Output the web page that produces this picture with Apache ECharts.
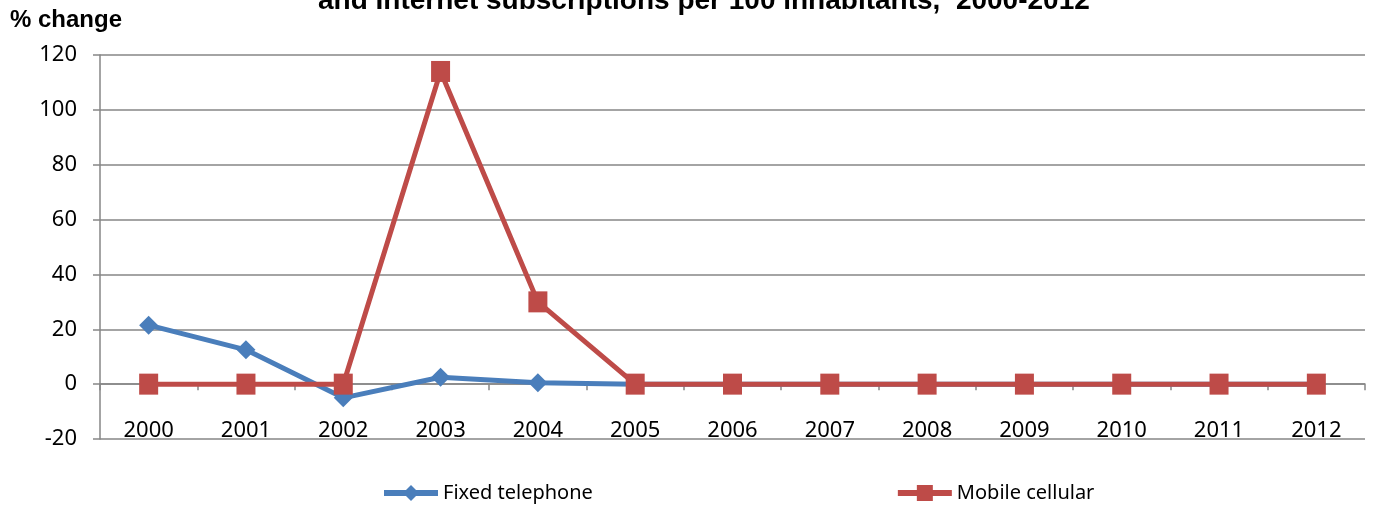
<!DOCTYPE html>
<html>
<head>
<meta charset="utf-8">
<script src="https://cdn.jsdelivr.net/npm/echarts@6/dist/echarts.min.js"></script>
<style>
html,body{margin:0;padding:0;background:#fff;}
#chart{width:1374px;height:510px;}
</style>
</head>
<body>
<div id="chart"></div>
<script>
var years = ['2000','2001','2002','2003','2004','2005','2006','2007','2008','2009','2010','2011','2012'];
var fixedTelephone = [21.5, 12.5, -5, 2.5, 0.5, 0, 0, 0, 0, 0, 0, 0, 0];
var mobileCellular = [0, 0, 0, 114, 30, 0, 0, 0, 0, 0, 0, 0, 0];
var yTicks = {min: -20, max: 120, interval: 20};
var titleText = 'and Internet subscriptions per 100 inhabitants,  2000-2012';
var yAxisTitle = '% change';

var chart = echarts.init(document.getElementById('chart'), null, {renderer: 'canvas'});
var axisGray = '#868686';
var font = 'Noto Sans';
chart.setOption({
  animation: false,
  backgroundColor: '#ffffff',
  graphic: [
    {type: 'text', left: 318, top: -13, style: {text: titleText, font: 'bold 28px "Liberation Sans", Arial', fill: '#000'}},
    {type: 'text', left: 10, top: 8, style: {text: yAxisTitle, font: 'bold 24px "Liberation Sans", Arial', fill: '#000'}}
  ],
  grid: {left: 100, right: 9, top: 55, bottom: 71, containLabel: false},
  legend: {
    bottom: 2, left: 376, itemGap: 302, itemWidth: 54, itemHeight: 20,
    lineStyle: {width: 6},
    textStyle: {fontFamily: font, fontSize: 20, color: '#000'},
    data: ['Fixed telephone', 'Mobile cellular']
  },
  xAxis: {
    type: 'category', data: years, boundaryGap: true,
    axisLine: {onZero: true, lineStyle: {color: axisGray, width: 1.5}},
    axisTick: {show: true, length: 6, lineStyle: {color: axisGray, width: 1.5}},
    axisLabel: {margin: -19, fontFamily: font, fontSize: 22, color: '#000'},
    splitLine: {show: false}
  },
  yAxis: {
    type: 'value', min: yTicks.min, max: yTicks.max, interval: yTicks.interval,
    axisLine: {show: true, lineStyle: {color: axisGray, width: 1.5}},
    axisTick: {show: true, length: 7, lineStyle: {color: axisGray, width: 1.5}},
    axisLabel: {margin: 23, fontFamily: font, fontSize: 22, color: '#000'},
    splitLine: {show: true, lineStyle: {color: axisGray, width: 1.5}}
  },
  series: [
    {
      name: 'Fixed telephone', type: 'line', data: fixedTelephone,
      symbol: 'diamond', symbolSize: 19, color: '#4A7EBB',
      lineStyle: {width: 5, color: '#4A7EBB'}, itemStyle: {color: '#4A7EBB'}, z: 2
    },
    {
      name: 'Mobile cellular', type: 'line', data: mobileCellular,
      symbol: 'rect', symbolSize: [19, 21], color: '#BE4B48',
      lineStyle: {width: 5, color: '#BE4B48'}, itemStyle: {color: '#BE4B48'}, z: 3
    }
  ]
});
</script>
</body>
</html>
